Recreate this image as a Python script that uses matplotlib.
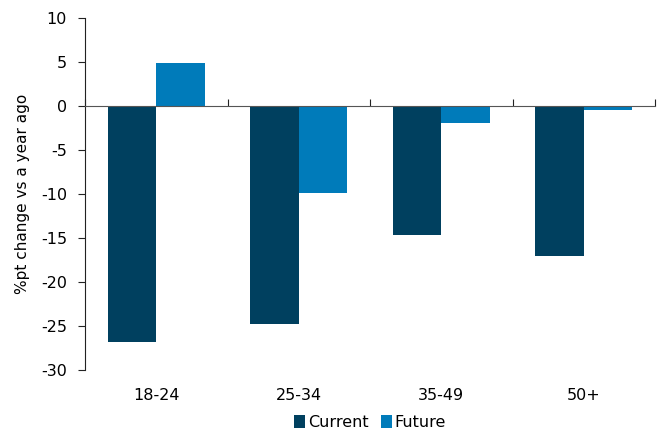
import matplotlib.pyplot as plt
import numpy as np

categories = ['18-24', '25-34', '35-49', '50+']
current = [-26.8, -24.8, -14.7, -17.1]
future = [4.9, -9.9, -1.9, -0.4]

plt.rcParams['axes.unicode_minus'] = False

fig, ax = plt.subplots(figsize=(6.65, 4.3), dpi=100)
fig.subplots_adjust(left=0.128, right=0.985, top=0.958, bottom=0.14)

x = np.arange(len(categories))
w = 0.34
ax.bar(x - w / 2, current, w, color='#00405f', label='Current')
ax.bar(x + w / 2, future, w, color='#007bba', label='Future')

ax.set_xlim(-0.5, len(categories) - 0.5)
ax.set_ylim(-30, 10)
ax.set_yticks(range(-30, 11, 5))
ax.tick_params(axis='y', labelsize=11.5, length=5, pad=8, color='#222222')
ax.set_ylabel('%pt change vs a year ago', fontsize=11, labelpad=8)

for s in ['top', 'right']:
    ax.spines[s].set_visible(False)
ax.spines['left'].set_color('#222222')
ax.spines['bottom'].set_position(('data', 0))
ax.spines['bottom'].set_color('#555555')
ax.set_xticks(np.arange(len(categories) + 1) - 0.5)
ax.tick_params(axis='x', direction='in', length=5, labelbottom=False, color='#222222')

sec = ax.secondary_xaxis('bottom')
sec.set_xticks(x)
sec.set_xticklabels(categories)
sec.tick_params(length=0, labelsize=11.5, pad=13)
sec.spines['bottom'].set_visible(False)

ax.legend(loc='upper center', bbox_to_anchor=(0.5, -0.097), ncol=2, frameon=False,
          fontsize=11.5, handlelength=0.7, handleheight=0.9, handletextpad=0.15,
          columnspacing=0.8, borderpad=0.2)

plt.savefig('out.png')
